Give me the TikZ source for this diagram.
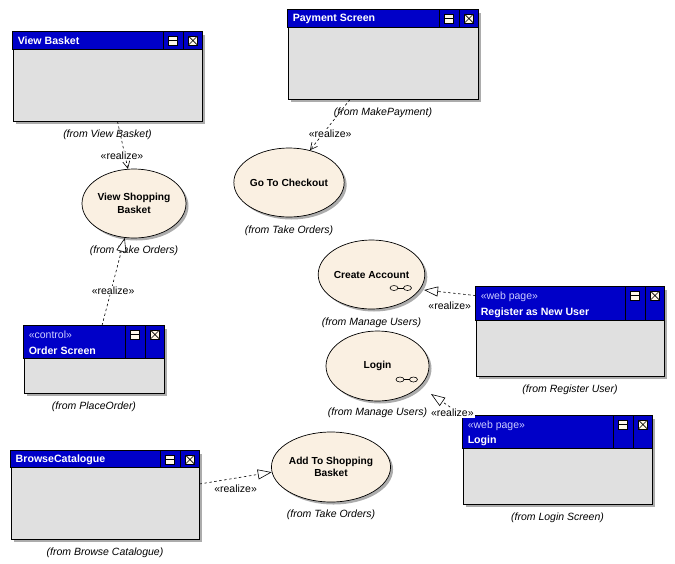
\documentclass[tikz,border=0pt]{standalone}
\usepackage{fontspec}
\setmainfont{Liberation Sans}
\usetikzlibrary{shapes.geometric,shadows,arrows.meta,positioning}
\definecolor{winblue}{RGB}{0,0,200}
\definecolor{wingray}{RGB}{224,224,224}
\definecolor{casefill}{RGB}{250,240,226}
\definecolor{btncream}{RGB}{255,248,232}
\definecolor{stereo}{RGB}{205,205,255}
\definecolor{shade}{RGB}{172,172,172}
% window frame: name, centre, width, height, header height
\newcommand{\uiframe}[5]{%
 \node[winbody, minimum width=#3pt, minimum height=#4pt] (#1) at (#2) {};
 \filldraw[winhead] (#1.north west) rectangle ([yshift=-#5pt]#1.north east);
 \draw[winline] ([xshift=-39pt]#1.north east) -- ([xshift=-39pt,yshift=-#5pt]#1.north east);
 \draw[winline] ([xshift=-19pt]#1.north east) -- ([xshift=-19pt,yshift=-#5pt]#1.north east);
 \filldraw[winbtn] ([xshift=-34pt,yshift=-4.5pt]#1.north east) rectangle ([xshift=-25pt,yshift=-13.5pt]#1.north east);
 \draw[winbtn] ([xshift=-34pt,yshift=-9pt]#1.north east) -- ([xshift=-25pt,yshift=-9pt]#1.north east);
 \filldraw[winbtn] ([xshift=-14pt,yshift=-4.5pt]#1.north east) rectangle ([xshift=-5pt,yshift=-13.5pt]#1.north east);
 \draw[winbtn] ([xshift=-14pt,yshift=-4.5pt]#1.north east) -- ([xshift=-5pt,yshift=-13.5pt]#1.north east)
  ([xshift=-14pt,yshift=-13.5pt]#1.north east) -- ([xshift=-5pt,yshift=-4.5pt]#1.north east);
}
% composite mark in a use case
\newcommand{\compmark}[1]{%
 \draw[winbtn, fill=none] ([shift={(22.5,13.5)}]#1.center) ellipse[x radius=4pt, y radius=2.5pt]
  ([shift={(36,13.5)}]#1.center) ellipse[x radius=4pt, y radius=2.5pt];
 \draw[winbtn] ([shift={(26.5,13.5)}]#1.center) -- ([shift={(32,13.5)}]#1.center);
}
\begin{document}
\begin{tikzpicture}[x=1pt, y=-1pt,
 winbody/.style={draw, line width=0.9pt, fill=wingray, inner sep=0pt,
  general shadow={fill=shade, shadow xshift=3pt, shadow yshift=-3pt}},
 winhead/.style={fill=winblue, draw=black, line width=0.9pt},
 winline/.style={line width=0.7pt},
 winbtn/.style={fill=btncream, draw=black, line width=0.6pt},
 wintitle/.style={anchor=west, inner sep=0pt, text=white, font=\fontsize{10.6}{12}\selectfont\bfseries},
 winstereo/.style={anchor=west, inner sep=0pt, text=stereo, font=\fontsize{10.5}{12}\selectfont},
 usecase/.style={ellipse, draw, line width=0.7pt, fill=casefill, inner sep=0pt,
  minimum width=104pt, minimum height=69pt, align=center,
  font=\fontsize{10.2}{12.5}\selectfont\bfseries,
  general shadow={fill=shade, shadow xshift=2.5pt, shadow yshift=-2.5pt}},
 fromlbl/.style={font=\fontsize{10.5}{12}\selectfont\itshape, inner sep=1pt},
 stlbl/.style={font=\fontsize{10.5}{12}\selectfont, fill=white, inner sep=1pt},
 realize/.style={line width=0.6pt, dash pattern=on 2.5pt off 2.5pt,
  -{Triangle[length=14pt, width=10pt, fill=white, line width=0.6pt]}},
 barbrealize/.style={line width=0.6pt, dash pattern=on 2.5pt off 2.5pt,
  -{Straight Barb[length=7pt, width=7pt, line width=0.6pt]}}]
\useasboundingbox (0,0) rectangle (675,563);
%
\uiframe{vb}{107.5,76.5}{189}{89}{18}
\node[wintitle] (vb-t) at ([xshift=5pt,yshift=-9pt]vb.north west) {View Basket};
\uiframe{pay}{383,54.5}{190}{89}{18}
\node[wintitle] (pay-t) at ([xshift=5pt,yshift=-9pt]pay.north west) {Payment Screen};
\uiframe{os}{94,359.5}{140}{67}{33}
\node[winstereo] (os-s) at ([xshift=5pt,yshift=-9.5pt]os.north west) {«control»};
\node[wintitle] (os-t) at ([xshift=5pt,yshift=-25.5pt]os.north west) {Order Screen};
\uiframe{reg}{570,331.5}{188}{89}{34}
\node[winstereo] (reg-s) at ([xshift=5pt,yshift=-10pt]reg.north west) {«web page»};
\node[wintitle] (reg-t) at ([xshift=5pt,yshift=-26pt]reg.north west) {Register as New User};
\uiframe{lgw}{557.5,460}{189}{88}{33}
\node[winstereo] (lgw-s) at ([xshift=5pt,yshift=-10pt]lgw.north west) {«web page»};
\node[wintitle] (lgw-t) at ([xshift=5pt,yshift=-25.5pt]lgw.north west) {Login};
\uiframe{bc}{105,495}{188}{88}{17}
\node[wintitle] (bc-t) at ([xshift=5pt,yshift=-9pt]bc.north west) {BrowseCatalogue};
%
\node[usecase] (vsb) at (134,203.5) {View Shopping\\Basket};
\node[usecase] (gtc) at (289,182.5) {Go To Checkout};
\node[usecase, minimum width=103pt] (ca) at (371.5,274.5) {Create Account};
\compmark{ca}
\node[usecase, minimum width=103pt, minimum height=70pt] (lg) at (377.5,366) {Login};
\compmark{lg}
\node[usecase, minimum height=70pt] (add) at (331,467) {Add To Shopping\\Basket};
%
\node[fromlbl, below=7pt of vb] (vb-from) {(from View Basket)};
\node[fromlbl, below=7pt of pay] (pay-from) {(from MakePayment)};
\node[fromlbl, below=7pt of os] (os-from) {(from PlaceOrder)};
\node[fromlbl, below=7pt of reg] (reg-from) {(from Register User)};
\node[fromlbl, below=7pt of lgw] (lgw-from) {(from Login Screen)};
\node[fromlbl, below=7pt of bc] (bc-from) {(from Browse Catalogue)};
\node[fromlbl, below=6pt of vsb] (vsb-from) {(from Take Orders)};
\node[fromlbl, below=7pt of gtc] (gtc-from) {(from Take Orders)};
\node[fromlbl, below=7pt of ca] (ca-from) {(from Manage Users)};
\node[fromlbl, below=5pt of lg] (lg-from) {(from Manage Users)};
\node[fromlbl, below=6pt of add] (add-from) {(from Take Orders)};
%
\draw[barbrealize] ([xshift=10pt]vb.south) -- node[stlbl, pos=0.72, xshift=-3pt] {«realize»} (vsb.100);
\draw[barbrealize] ([xshift=-33pt]pay.south) -- node[stlbl, pos=0.67, xshift=7pt] {«realize»} (gtc.57);
\draw[realize] ([xshift=8pt]os.north) -- node[stlbl, pos=0.4, xshift=2pt] {«realize»} (vsb.255);
\draw[realize] ([yshift=-9pt]reg.north west) -- node[stlbl, pos=0.5, yshift=-13pt] {«realize»} ([shift={(52.5,15.5)}]ca.center);
\draw[realize] (lgw.north west) -- node[stlbl, pos=0.45, xshift=4pt, yshift=-7pt] {«realize»} ([shift={(53.5,28)}]lg.center);
\draw[realize] ([yshift=11pt]bc.east) -- node[stlbl, pos=0.5, yshift=-11pt] {«realize»} (add.185);
\end{tikzpicture}
\end{document}
